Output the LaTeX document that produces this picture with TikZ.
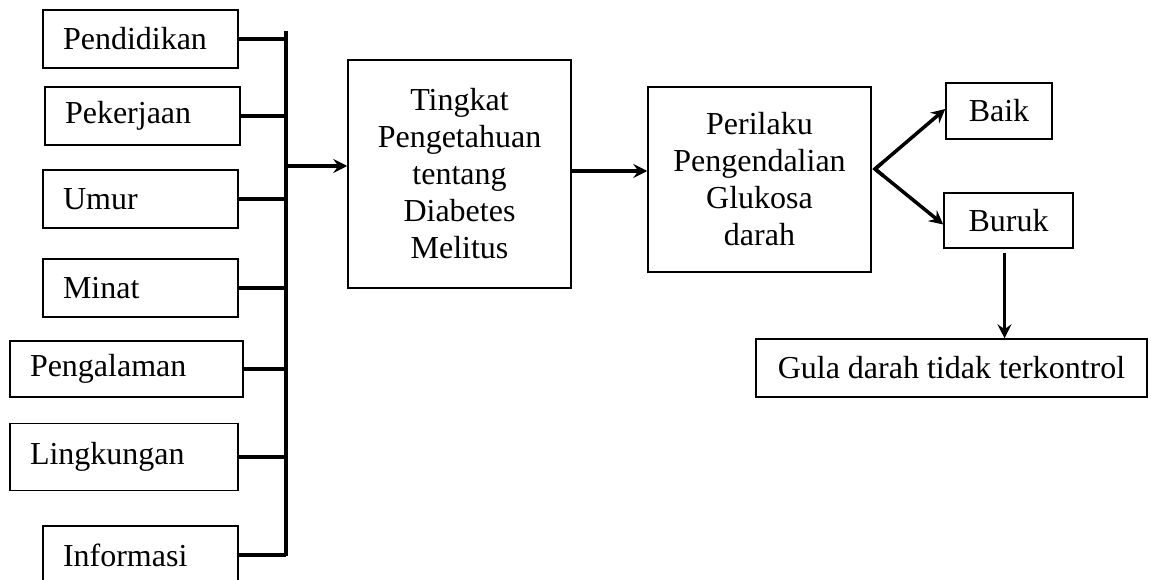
\documentclass[tikz,border=0pt]{standalone}
\usepackage{fontspec}
\setmainfont{Liberation Serif}
\usetikzlibrary{arrows.meta,calc}
\begin{document}
\begin{tikzpicture}[x=1pt,y=-1pt,
  font=\fontsize{32}{37}\selectfont,
  lbox/.style={draw,line width=1.5pt,inner xsep=20pt,inner ysep=0pt,align=left,minimum height=#1},
  cbox/.style={draw,line width=1.5pt,align=center,inner sep=0pt},
  conn/.style={line width=3.5pt},
  arr/.style={line width=3.5pt,-{Stealth[length=14pt,width=14pt,inset=5pt]}}]
\useasboundingbox (0,0) rectangle (1154,580);
% left boxes
\node[lbox=58pt,text width=155pt] (pend) at (140.5,39) {Pendidikan};
\node[lbox=58pt,text width=155pt] (peker) at (142.5,116) {Pekerjaan};
\node[lbox=58pt,text width=155pt] (umur) at (140.5,199) {Umur};
\node[lbox=58pt,text width=155pt] (minat) at (140.5,288) {Minat};
\node[lbox=56pt,text width=193pt] (pengal) at (126.5,369) {Pengalaman};
\node[lbox=67pt,text width=188pt] (lingk) at (124,457) {Lingkungan};
\node[lbox=58pt,text width=155pt] (info) at (140.5,555) {Informasi};
% bus
\coordinate (bustop) at (286,31);
\coordinate (busbot) at (286,556);
\coordinate (busmid) at (286,166);
\draw[conn] (bustop) -- (busbot);
\foreach \n in {pend,peker,umur,minat,pengal,lingk,info}
  \draw[conn] (\n.east) -- (\n.east -| bustop);
% middle boxes
\node[cbox,minimum width=223pt,minimum height=228pt] (tingkat) at (459.5,174)
  {Tingkat\\Pengetahuan\\tentang\\Diabetes\\Melitus};
\node[cbox,minimum width=223pt,minimum height=185pt] (peril) at (759.5,179.5)
  {Perilaku\\Pengendalian\\Glukosa\\darah};
\draw[arr] (busmid) -- (busmid -| tingkat.west);
\draw[arr] ([yshift=3pt]tingkat.east) -- ([yshift=3pt]tingkat.east -| peril.west);
% right side
\node[cbox,minimum width=106pt,minimum height=56pt] (baik) at (999,111) {Baik};
\node[cbox,minimum width=129pt,minimum height=55pt] (buruk) at (1008.5,220.5) {Buruk};
\node[cbox,minimum width=391pt,minimum height=58pt] (gula) at (951.5,368) {Gula darah tidak terkontrol};
\coordinate (apex) at (875,169);
\coordinate (baikin) at ([yshift=2pt]baik.west);
\coordinate (burukin) at ([yshift=-4pt]buruk.west);
\draw[conn,line join=miter] ($(apex)!10pt!(baikin)$) -- (apex) -- ($(apex)!10pt!(burukin)$);
\draw[arr] (apex) -- (baikin);
\draw[arr] (apex) -- (burukin);
\draw[arr] ([xshift=-4pt,yshift=-4pt]buruk.south) -- ([xshift=-4pt]buruk.south |- gula.north);
\end{tikzpicture}
\end{document}
